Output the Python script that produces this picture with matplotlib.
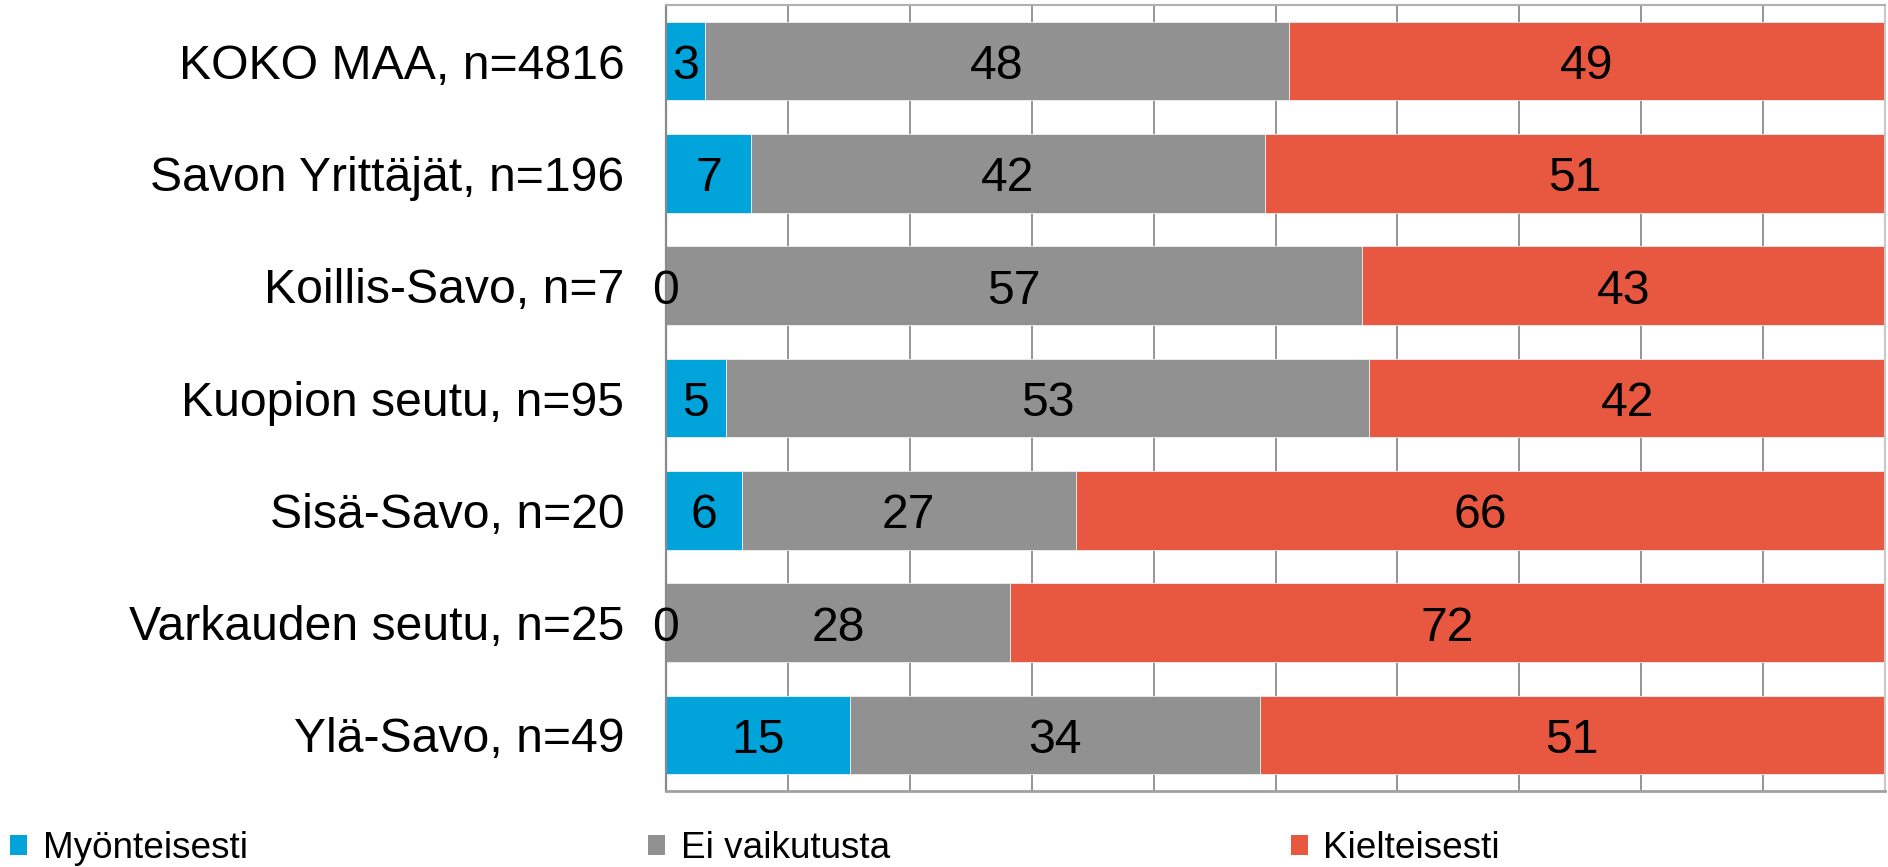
import matplotlib
matplotlib.use("Agg")
import matplotlib.pyplot as plt
import numpy as np
from matplotlib.patches import Patch

plt.rcParams['font.family'] = ['Liberation Sans', 'DejaVu Sans']

categories = ["KOKO MAA, n=4816", "Savon Yrittäjät, n=196", "Koillis-Savo, n=7",
              "Kuopion seutu, n=95", "Sisä-Savo, n=20", "Varkauden seutu, n=25",
              "Ylä-Savo, n=49"]
series_names = ["Myönteisesti", "Ei vaikutusta", "Kielteisesti"]
myonteisesti = [3.2, 7.0, 0.0, 4.9, 6.2, 0.0, 15.1]
ei_vaikutusta = [47.9, 42.1, 57.1, 52.8, 27.4, 28.2, 33.6]
kielteisesti = [48.9, 50.9, 42.9, 42.3, 66.4, 71.8, 51.3]
labels_my = ["3", "7", "0", "5", "6", "0", "15"]
labels_ei = ["48", "42", "57", "53", "27", "28", "34"]
labels_ki = ["49", "51", "43", "42", "66", "72", "51"]
colors = ["#00A3DA", "#919191", "#E8573F"]

fig = plt.figure(figsize=(18.88, 8.67), dpi=100)
ax = fig.add_axes([666 / 1888, 1 - 791 / 867, (1885 - 666) / 1888, (791 - 5) / 867])

y = np.arange(len(categories))
left = np.zeros(len(categories))
series = [myonteisesti, ei_vaikutusta, kielteisesti]
labels = [labels_my, labels_ei, labels_ki]
for vals, name, col, labs in zip(series, series_names, colors, labels):
    vals = np.array(vals)
    cont = ax.barh(y, vals, left=left, height=0.70, color=col, label=name,
                   edgecolor="#F0F0F0", linewidth=0.6, zorder=2)
    anns = ax.bar_label(cont, labels=labs, label_type='center', fontsize=34.7,
                        color='black', zorder=3)
    for a in anns:
        a.xyann = (0, -4)
    left = left + vals

ax.set_xlim(0, 100)
ax.set_ylim(len(categories) - 0.5, -0.5)
ax.set_yticks(y)
ax.set_yticklabels(categories, fontsize=34.7)
ax.set_xticks(np.arange(0, 101, 10))
ax.set_xticklabels([])
ax.tick_params(axis='both', length=0)
ax.tick_params(axis='y', pad=30)
ax.grid(axis='x', color='#8C8C8C', linewidth=1.3, zorder=0)
ax.set_axisbelow(True)
ax.spines['left'].set_color('#8A8A8A')
ax.spines['left'].set_linewidth(1.6)
ax.spines['top'].set_color('#B0B0B0')
ax.spines['top'].set_linewidth(1.5)
ax.spines['right'].set_color('#C8C8C8')
ax.spines['right'].set_linewidth(1.5)
ax.spines['bottom'].set_color('#A0A0A0')
ax.spines['bottom'].set_linewidth(2.0)

handles = [Patch(facecolor=c, edgecolor='none') for c in colors]
fig.legend(handles, series_names, loc='center left', bbox_to_anchor=(10 / 1888, 1 - 849 / 867),
           ncol=3, frameon=False, fontsize=26.6, borderpad=0, borderaxespad=0,
           handlelength=0.45, handleheight=0.45, handletextpad=0.43, columnspacing=10.85)

fig.savefig("out.png", dpi=100)
